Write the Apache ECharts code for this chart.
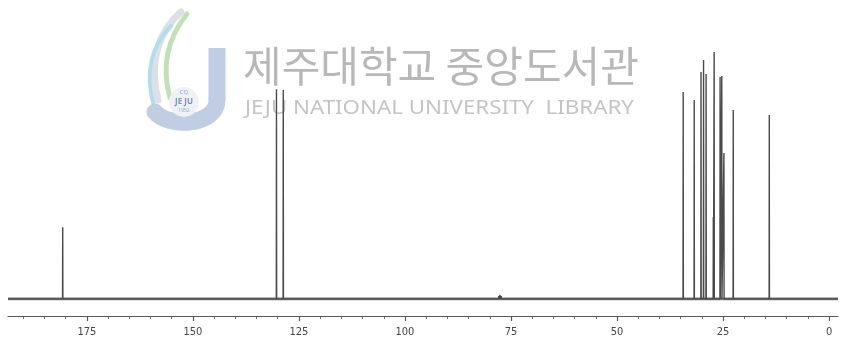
<!DOCTYPE html>
<html>
<head>
<meta charset="utf-8">
<script src="https://cdn.jsdelivr.net/npm/echarts@6/dist/echarts.min.js"></script>
<style>
  html, body { margin: 0; padding: 0; background: #ffffff; }
  #chart { width: 845px; height: 343px; }
</style>
</head>
<body>
<div id="chart"></div>
<script>
// 13C NMR spectrum: peak positions (ppm) and relative intensities (tallest = 100)
const peakShift = [180.7, 130.3, 128.7, 97.6, 87.5, 77.9, 77.6, 77.3, 64.6,
                   34.4, 31.8, 30.2, 29.6, 29.0, 27.3, 27.1, 25.7, 25.3, 24.8, 22.6, 14.1];
const peakHeight = [29.1, 85.0, 84.6, 0.6, 0.5, 1.2, 1.6, 1.2, 0.6,
                    83.8, 80.6, 91.9, 96.8, 91.1, 33.2, 100, 89.9, 90.3, 59.1, 76.5, 74.5];

// chemical-shift scale
const shiftMax = 193.6;
const shiftMin = -2.1;
const majorTicks = [175, 150, 125, 100, 75, 50, 25, 0];
const minorTicks = [190, 185, 180, 170, 165, 160, 155, 145, 140, 135, 130, 120, 115, 110, 105,
                    95, 90, 85, 80, 70, 65, 60, 55, 45, 40, 35, 30, 20, 15, 10, 5];

// stick spectrum: baseline running from high to low shift with a spike at each peak
const halfWidth = 0.04;
const stickData = [[shiftMax, 0]];
peakShift.forEach((p, i) => {
  stickData.push([p + halfWidth, 0], [p, peakHeight[i]], [p - halfWidth, 0]);
});
stickData.push([shiftMin, 0]);

const chart = echarts.init(document.getElementById('chart'), null, { renderer: 'canvas' });

const axisFont = '"Liberation Sans Narrow", "DejaVu Sans Condensed", "Liberation Sans", sans-serif';

function curve(x1, y1, c1x, c1y, c2x, c2y, x2, y2, color, width) {
  return {
    type: 'bezierCurve',
    shape: { x1: x1, y1: y1, cpx1: c1x, cpy1: c1y, cpx2: c2x, cpy2: c2y, x2: x2, y2: y2 },
    style: { fill: null, stroke: color, lineWidth: width, lineCap: 'round' }
  };
}

chart.setOption({
  backgroundColor: '#ffffff',
  animation: false,
  grid: { left: 8, right: 7, top: 20, bottom: 44 },
  xAxis: [
    {
      type: 'value',
      inverse: true,
      min: shiftMin,
      max: shiftMax,
      position: 'bottom',
      offset: 17,
      axisLine: { show: true, onZero: false, lineStyle: { color: '#5a5a5a', width: 1.2 } },
      axisTick: { show: true, length: 5, customValues: majorTicks, lineStyle: { color: '#555555', width: 1.2 } },
      axisLabel: {
        show: true,
        customValues: majorTicks,
        margin: 11,
        color: '#444444',
        fontSize: 11,
        fontFamily: axisFont
      },
      splitLine: { show: false }
    },
    {
      type: 'value',
      inverse: true,
      min: shiftMin,
      max: shiftMax,
      position: 'bottom',
      offset: 17,
      axisLine: { show: false, onZero: false },
      axisTick: { show: true, length: 3, customValues: minorTicks, lineStyle: { color: '#666666', width: 1 } },
      axisLabel: { show: false },
      splitLine: { show: false }
    }
  ],
  yAxis: {
    type: 'value',
    min: 0,
    max: 113,
    show: false,
    splitLine: { show: false }
  },
  graphic: [
    // library emblem
    {
      type: 'group', z: -10, silent: true,
      children: [
        curve(181, 12, 160, 30, 148, 60, 158, 100, '#dde1e6', 7),
        curve(187, 14, 170, 35, 160, 62, 170, 98, '#c3e1b9', 5),
        curve(171, 26, 152, 45, 144, 72, 154, 106, '#b5dcee', 4),
        { type: 'line', shape: { x1: 217, y1: 48, x2: 217, y2: 100 },
          style: { stroke: '#c0cde2', lineWidth: 17 } },
        curve(217, 100, 217, 126, 168, 128, 155, 112, '#c0cde2', 17),
        { type: 'circle', shape: { cx: 184, cy: 102, r: 15 }, style: { fill: '#eef1f6' } },
        { type: 'text', style: { text: 'CQ', x: 184, y: 92, fill: '#9aa8c2', fontSize: 6,
          fontFamily: 'Noto Sans', align: 'center', verticalAlign: 'middle' } },
        { type: 'text', style: { text: 'JE JU', x: 184, y: 102, fill: '#7f90b3', fontSize: 8, fontWeight: 'bold',
          fontFamily: 'Noto Sans', align: 'center', verticalAlign: 'middle' } },
        { type: 'text', style: { text: '1952', x: 184, y: 111, fill: '#a2aec6', fontSize: 5,
          fontFamily: 'Noto Sans', align: 'center', verticalAlign: 'middle' } }
      ]
    },
    {
      type: 'text', z: -10, silent: true, left: 243, top: 45,
      style: { text: '제주대학교 중앙도서관', fill: '#b8b8b8', fontSize: 42,
        fontFamily: '"Noto Sans CJK KR", sans-serif' }
    },
    {
      type: 'text', z: -10, silent: true, x: 245, y: 98, scaleX: 1.115,
      style: { text: 'JEJU NATIONAL UNIVERSITY  LIBRARY', fill: '#c4c4c4', fontSize: 20,
        fontFamily: '"Noto Sans", sans-serif', verticalAlign: 'top' }
    }
  ],
  series: [
    {
      name: 'baseline',
      type: 'line',
      xAxisIndex: 0,
      data: [[shiftMax, 0], [shiftMin, 0]],
      symbol: 'none',
      silent: true,
      lineStyle: { color: '#7c7c7c', width: 3 }
    },
    {
      name: 'spectrum',
      type: 'line',
      xAxisIndex: 0,
      data: stickData,
      symbol: 'none',
      silent: true,
      lineStyle: { color: '#4a4a4a', width: 1.4 }
    }
  ]
});
</script>
</body>
</html>
